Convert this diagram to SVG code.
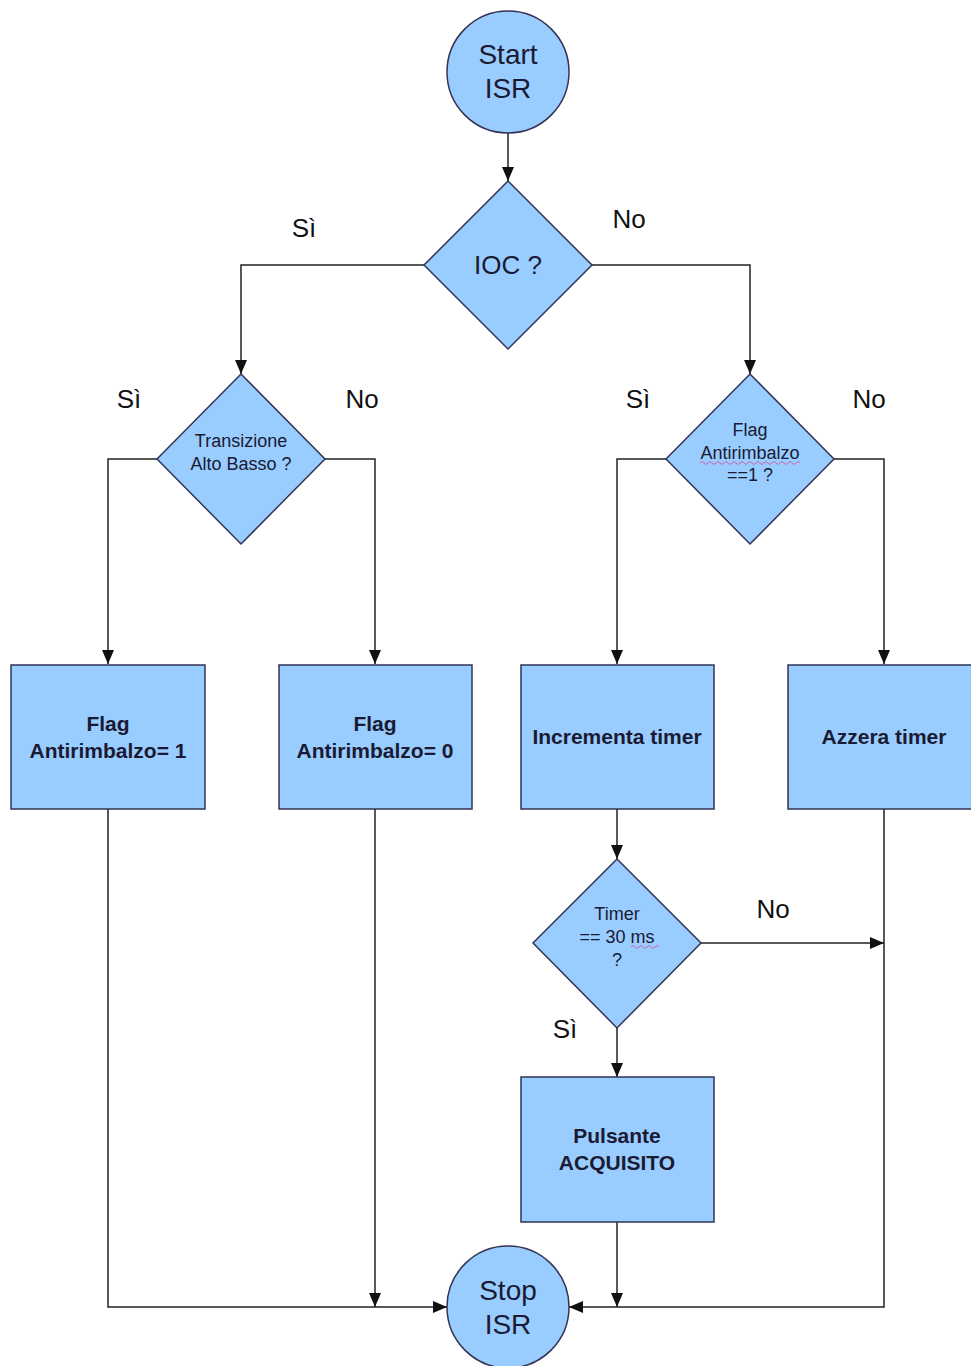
<svg xmlns="http://www.w3.org/2000/svg" width="971" height="1366" viewBox="0 0 971 1366">
<defs>
<marker id="ah" viewBox="0 0 14 12" refX="14" refY="6" markerWidth="14" markerHeight="12" markerUnits="userSpaceOnUse" orient="auto">
<path d="M0,0 L14,6 L0,12 z" fill="#111"/>
</marker>
</defs>
<style>
.shape{fill:#99ccff;stroke:#333355;stroke-width:1.5}
.conn{fill:none;stroke:#222;stroke-width:1.5}
.arr{marker-end:url(#ah)}
text{font-family:"Liberation Sans",Arial,sans-serif;fill:#1a1a33;text-anchor:middle}
.big{font-size:28px}
.mid{font-size:26px}
.small{font-size:18px}
.box{font-size:21px;font-weight:bold}
.lbl{font-size:26px;fill:#111}
.sq{fill:none;stroke:#cc66aa;stroke-width:1}
</style>
<rect width="971" height="1366" fill="#fff"/>
<g id="connectors">
<path class="conn arr" d="M508,133 L508,181"/>
<path class="conn arr" d="M424,265 L241,265 L241,374"/>
<path class="conn arr" d="M592,265 L750,265 L750,374"/>
<path class="conn arr" d="M157,459 L108,459 L108,664"/>
<path class="conn arr" d="M325,459 L375,459 L375,664"/>
<path class="conn arr" d="M666,459 L617,459 L617,664"/>
<path class="conn arr" d="M834,459 L884,459 L884,664"/>
<path class="conn arr" d="M617,809 L617,859"/>
<path class="conn arr" d="M701,943 L884,943"/>
<path class="conn arr" d="M617,1028 L617,1077"/>
<path class="conn arr" d="M617,1222 L617,1307"/>
<path class="conn arr" d="M108,809 L108,1307 L447,1307"/>
<path class="conn arr" d="M375,809 L375,1307"/>
<path class="conn arr" d="M884,809 L884,1307 L569,1307"/>
</g>
<g id="labels">
<text class="lbl" x="304" y="237">Sì</text>
<text class="lbl" x="629" y="228">No</text>
<text class="lbl" x="129" y="408">Sì</text>
<text class="lbl" x="362" y="408">No</text>
<text class="lbl" x="638" y="408">Sì</text>
<text class="lbl" x="869" y="408">No</text>
<text class="lbl" x="773" y="918">No</text>
<text class="lbl" x="565" y="1038">Sì</text>
</g>
<g id="start">
<circle class="shape" cx="508" cy="72" r="61"/>
<text class="big" x="508" y="64">Start</text>
<text class="big" x="508" y="98">ISR</text>
</g>
<g id="ioc">
<polygon class="shape" points="508,181 592,265 508,349 424,265"/>
<text class="mid" x="508" y="274">IOC ?</text>
</g>
<g id="transizione">
<polygon class="shape" points="241,374 325,459 241,544 157,459"/>
<text class="small" x="241" y="447">Transizione</text>
<text class="small" x="241" y="470">Alto Basso ?</text>
</g>
<g id="flagcheck">
<polygon class="shape" points="750,374 834,459 750,544 666,459"/>
<text class="small" x="750" y="436">Flag</text>
<text class="small" x="750" y="459">Antirimbalzo</text>
<text class="small" x="750" y="481">==1 ?</text>
<path class="sq" d="M700,463 q2,-3 4,0 t4,0 t4,0 t4,0 t4,0 t4,0 t4,0 t4,0 t4,0 t4,0 t4,0 t4,0 t4,0 t4,0 t4,0 t4,0 t4,0 t4,0 t4,0 t4,0 t4,0 t4,0 t4,0 t4,0 t4,0"/>
</g>
<g id="flag1">
<rect class="shape" x="11" y="665" width="194" height="144"/>
<text class="box" x="108" y="731">Flag</text>
<text class="box" x="108" y="758">Antirimbalzo= 1</text>
</g>
<g id="flag0">
<rect class="shape" x="279" y="665" width="193" height="144"/>
<text class="box" x="375" y="731">Flag</text>
<text class="box" x="375" y="758">Antirimbalzo= 0</text>
</g>
<g id="incrementa">
<rect class="shape" x="521" y="665" width="193" height="144"/>
<text class="box" x="617" y="744">Incrementa timer</text>
</g>
<g id="azzera">
<rect class="shape" x="788" y="665" width="194" height="144"/>
<text class="box" x="884" y="744">Azzera timer</text>
</g>
<g id="timer">
<polygon class="shape" points="617,859 701,943 617,1028 533,943"/>
<text class="small" x="617" y="920">Timer</text>
<text class="small" x="617" y="943">== 30 ms</text>
<text class="small" x="617" y="966">?</text>
<path class="sq" d="M631,947 q2,-3 4,0 t4,0 t4,0 t4,0 t4,0 t4,0 t4,0"/>
</g>
<g id="pulsante">
<rect class="shape" x="521" y="1077" width="193" height="145"/>
<text class="box" x="617" y="1143">Pulsante</text>
<text class="box" x="617" y="1170">ACQUISITO</text>
</g>
<g id="stop">
<circle class="shape" cx="508" cy="1307" r="61"/>
<text class="big" x="508" y="1300">Stop</text>
<text class="big" x="508" y="1334">ISR</text>
</g>
</svg>
